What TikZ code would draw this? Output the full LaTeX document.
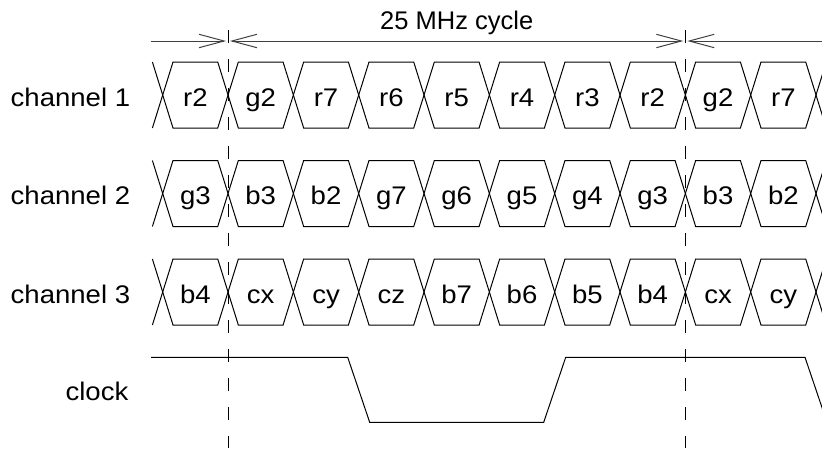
\documentclass[tikz,border=0pt]{standalone}
\usepackage{fontspec}
\setmainfont{Liberation Sans}
\usetikzlibrary{arrows.meta}
\newcommand{\wtxt}[1]{\scalebox{1.08}[1]{#1}}
\begin{document}
\begin{tikzpicture}[x=1pt,y=-1pt,
  lbl/.style={inner sep=0pt, font=\fontsize{25.5}{30}\selectfont},
  sig/.style={line width=1pt, line join=miter},
  guide/.style={line width=1pt, dash pattern=on 13pt off 16pt},
  dim/.style={line width=1pt, black!75},
  barbend/.style={-{Straight Barb[length=25pt,width=13.4pt]}},
  barbboth/.style={{Straight Barb[length=25pt,width=13.4pt]}-{Straight Barb[length=25pt,width=13.4pt]}},
  barbstart/.style={{Straight Barb[length=25pt,width=13.4pt]}-}
]
\useasboundingbox (0,0) rectangle (822,448);

% guide lines
\coordinate (g1t) at (228,30);
\coordinate (g1b) at (228,448);
\coordinate (g2t) at (685.3,30);
\coordinate (g2b) at (685.3,448);
\draw[guide] (g1t) -- (g1b);
\draw[guide] (g2t) -- (g2b);

% dimension line
\coordinate (dL) at (151,41);
\coordinate (dA) at (226,41);
\coordinate (dB) at (230,41);
\coordinate (dC) at (683.3,41);
\coordinate (dD) at (687.3,41);
\coordinate (dR) at (822,41);
\draw[dim, barbend] (dL) -- (dA);
\draw[dim, barbboth] (dB) -- (dC);
\draw[dim, barbstart] (dD) -- (dR);
\node[lbl, anchor=base] (title) at (456.7,29.3) {25 MHz cycle};

% channel rows
\foreach \r/\t/\L in {1/62/{r2,g2,r7,r6,r5,r4,r3,r2,g2,r7},
                      2/160.5/{g3,b3,b2,g7,g6,g5,g4,g3,b3,b2},
                      3/259/{b4,cx,cy,cz,b7,b6,b5,b4,cx,cy}}{
  \pgfmathsetmacro\m{\t+33}
  \pgfmathsetmacro\bt{\t+66}
  \draw[sig] (152.4,\t) -- (162.7,\m) -- (152.4,\bt);
  \draw[sig] (826.3,\t) -- (816,\m) -- (826.3,\bt);
  \foreach \s [count=\k from 0] in \L {
    \pgfmathsetmacro\xa{162.7+\k*65.333}
    \pgfmathsetmacro\xb{\xa+65.333}
    \draw[sig] (\xa,\m) -- (\xa+10.3,\t) -- (\xb-10.3,\t) -- (\xb,\m)
               -- (\xb-10.3,\bt) -- (\xa+10.3,\bt) -- cycle;
    \node[lbl, anchor=base] (n\r-\k) at ({(\xa+\xb)/2},\m+11) {\wtxt{\s}};
  }
  \node[lbl, anchor=base west] (ch\r) at (10.5,\m+11) {\wtxt{channel \r}};
}

% clock
\draw[sig] (151,357.3) -- (347.7,357.3) -- (369.7,422.3) -- (543.7,422.3)
  -- (565.7,357.3) -- (805,357.3) -- (827,422.3);
\node[lbl, anchor=base east] (clk) at (128.5,400.8) {\wtxt{clock}};
\end{tikzpicture}
\end{document}
